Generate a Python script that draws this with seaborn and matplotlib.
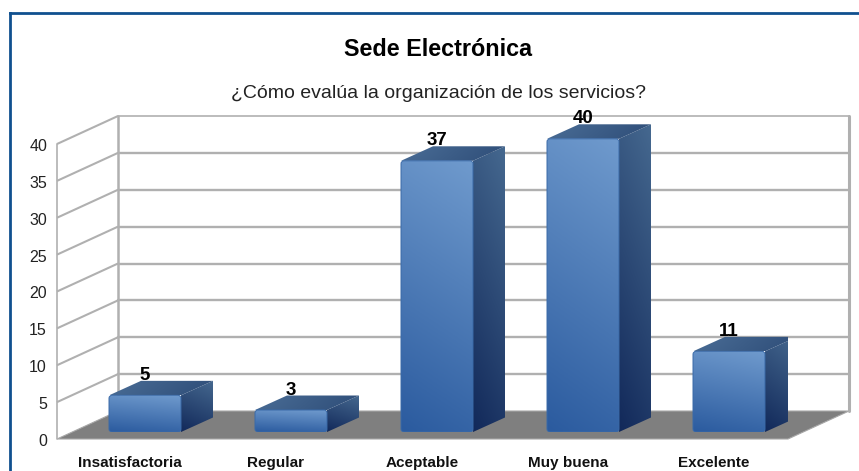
import numpy as np
import pandas as pd
import matplotlib
matplotlib.use("Agg")
import matplotlib.pyplot as plt
import seaborn as sns
from matplotlib.colors import LinearSegmentedColormap
from matplotlib.patches import FancyBboxPatch, Polygon

categorias = ["Insatisfactoria", "Regular", "Aceptable", "Muy buena", "Excelente"]
valores = [5, 3, 37, 40, 11]
ticks_y = [0, 5, 10, 15, 20, 25, 30, 35, 40]

titulo = "Sede Electrónica"
subtitulo = "¿Cómo evalúa la organización de los servicios?"

W, H = 859, 471
sns.set_theme(style="white")
plt.rcParams["font.family"] = ["Liberation Sans", "DejaVu Sans"]

fig = plt.figure(figsize=(W / 100, H / 100), dpi=100)
fondo = fig.add_axes([0, 0, 1, 1])
fondo.set_xlim(0, W)
fondo.set_ylim(H, 0)
fondo.axis("off")

# marco azul: solo se ven el lado izquierdo y el superior
azul = "#10508f"
fondo.plot([9.5, 9.5], [H, 12.5], color=azul, lw=2, solid_capstyle="projecting")
fondo.plot([9.5, W], [12.5, 12.5], color=azul, lw=2, solid_capstyle="projecting")

# ejes alineados con el plano frontal de las barras (146 px por categoria, 7.33 px por unidad)
px_x, px_y = 146.0, 7.33
x_izq, x_der = 57, 788
y_cero, y_arriba = 432, 120
ax = fig.add_axes([x_izq / W, 1 - y_cero / H, (x_der - x_izq) / W, (y_cero - y_arriba) / H])
ax.patch.set_alpha(0)
df = pd.DataFrame({"categoria": categorias, "valor": valores})
sns.barplot(data=df, x="categoria", y="valor", ax=ax, width=72 / 146, color="#4f7fb8", saturation=1)
ax.set_xlim((x_izq - 145) / px_x, (x_der - 145) / px_x)
ax.set_ylim(0, (y_cero - y_arriba) / px_y)
ax.axis("off")
x0, x1 = ax.get_xlim()
y0, y1 = ax.get_ylim()

# profundidad en unidades de datos
dx, dy = 32 / px_x, 14.5 / px_y
pared_dx, pared_dy = 61 / px_x, 28 / px_y
suelo = -7 / px_y


def gradiente(verts, c_abajo, c_arriba, angulo=90, z=3, recorte=None):
    # rellena un poligono con degradado lineal, recortado con clip path
    verts = np.array(verts)
    gx, gy = np.meshgrid(np.linspace(0, 1, 64), np.linspace(1, 0, 64))
    a = np.deg2rad(angulo)
    val = gx * np.cos(a) + gy * np.sin(a)
    val = (val - val.min()) / (val.max() - val.min())
    cmap = LinearSegmentedColormap.from_list("g", [c_abajo, c_arriba])
    im = ax.imshow(val, cmap=cmap, aspect="auto", zorder=z, interpolation="bilinear",
                   extent=(verts[:, 0].min(), verts[:, 0].max(), verts[:, 1].min(), verts[:, 1].max()))
    if recorte is None:
        recorte = Polygon(verts, closed=True, fc="none", ec="none")
    ax.add_patch(recorte)
    im.set_clip_path(recorte)
    im.set_clip_on(True)


# suelo gris
ax.add_patch(Polygon([(x0, suelo), (x1, suelo), (x1 + pared_dx, suelo + pared_dy), (x0 + pared_dx, suelo + pared_dy)],
                     fc="#7f7f7f", ec="#a8a8a8", lw=0.8, zorder=1, clip_on=False))

# rejilla: pared lateral y pared del fondo
gris = "#b0b0b0"
for t in ticks_y:
    yf = suelo + t * 7.375 / px_y
    yb = yf + pared_dy
    if t > 0:
        ax.plot([x0, x0 + pared_dx], [yf, yb], color=gris, lw=1.5, zorder=1.5, clip_on=False, solid_capstyle="butt")
        ax.plot([x0 + pared_dx, x1 + pared_dx], [yb, yb], color=gris, lw=1.7 if t < 40 else 1.2,
                zorder=1.5, clip_on=False)
    ax.text(x0 - 10 / px_x, yf - 2.5 / px_y, str(t), ha="right", va="center", fontsize=11.5, color="#222222",
            clip_on=False)
tope = suelo + 40 * 7.375 / px_y
ax.plot([x0, x0], [suelo, tope], color=gris, lw=1.2, zorder=1.5, clip_on=False)
ax.plot([x0 + pared_dx] * 2, [suelo + pared_dy, tope + pared_dy], color=gris, lw=1.8, zorder=1.5, clip_on=False)
ax.plot([x1 + pared_dx] * 2, [suelo + pared_dy, tope + pared_dy], color=gris, lw=2.2, zorder=1.5, clip_on=False)

# caras de cada barra a partir de las barras de seaborn
for barra, v, cat in zip(list(ax.patches)[:5], valores, categorias):
    xa, w, h = barra.get_x(), barra.get_width(), barra.get_height()
    barra.set_visible(False)
    xb = xa + w
    gradiente([(xb, 0), (xb + dx, dy), (xb + dx, h + dy), (xb, h)], "#12295a", "#45688f", angulo=75, z=3)
    gradiente([(xa, h), (xb, h), (xb + dx, h + dy), (xa + dx, h + dy)], "#2e4d78", "#4a6d96", angulo=170, z=3)
    caja = FancyBboxPatch((xa, 0), w, h, boxstyle="round,pad=0,rounding_size=%f" % (3 / px_x),
                          mutation_aspect=px_x / px_y, fc="none", ec="none")
    gradiente([(xa, 0), (xb, 0), (xb, h), (xa, h)], "#2b5b9f", "#6f9acd", angulo=80, z=4, recorte=caja)
    ax.add_patch(FancyBboxPatch((xa, 0), w, h, boxstyle="round,pad=0,rounding_size=%f" % (3 / px_x),
                                mutation_aspect=px_x / px_y, fc="none", ec="#3a6aa8", lw=0.7, zorder=5))
    ax.text(xa + w / 2, h + dy + 5.5 / px_y, str(v), ha="center", va="center", fontsize=13.5,
            fontweight="bold", color="black", zorder=6, clip_on=False)
    ax.text(xa + w / 2 - 15 / px_x, -31 / px_y, cat, ha="center", va="center", fontsize=11,
            fontweight="bold", color="#111111", clip_on=False)

ax.set_xlim(x0, x1)
ax.set_ylim(y0, y1)

fondo.text(438.5, 50, titulo, ha="center", va="center", fontsize=16.8, fontweight="bold", color="black")
fondo.text(438.5, 93.5, subtitulo, ha="center", va="center", fontsize=14, color="#222222")

fig.savefig("out.png", dpi=100)
